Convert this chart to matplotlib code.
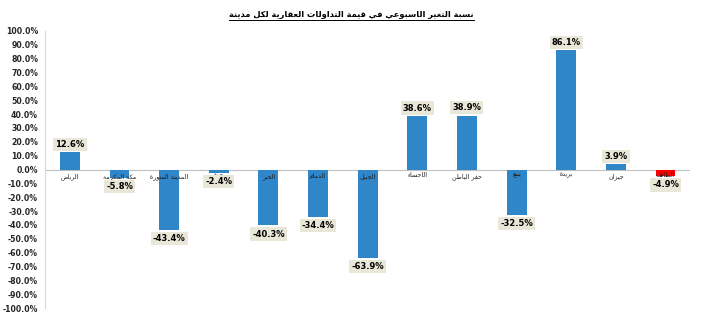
import numpy as np
import matplotlib.pyplot as plt
from matplotlib.lines import Line2D
from matplotlib.ticker import FuncFormatter

# simple arabic shaping (matplotlib has no complex text layout)
FOUR = {'ب': 0xFE8F, 'ت': 0xFE95, 'ث': 0xFE99, 'ج': 0xFE9D, 'ح': 0xFEA1, 'خ': 0xFEA5,
        'س': 0xFEB1, 'ش': 0xFEB5, 'ص': 0xFEB9, 'ض': 0xFEBD, 'ط': 0xFEC1, 'ظ': 0xFEC5,
        'ع': 0xFEC9, 'غ': 0xFECD, 'ف': 0xFED1, 'ق': 0xFED5, 'ك': 0xFED9, 'ل': 0xFEDD,
        'م': 0xFEE1, 'ن': 0xFEE5, 'ه': 0xFEE9, 'ي': 0xFEF1, 'ئ': 0xFE89}
TWO = {'ا': 0xFE8D, 'أ': 0xFE83, 'إ': 0xFE87, 'آ': 0xFE81, 'ة': 0xFE93, 'د': 0xFEA9,
       'ذ': 0xFEAB, 'ر': 0xFEAD, 'ز': 0xFEAF, 'و': 0xFEED, 'ى': 0xFEEF, 'ؤ': 0xFE85}


def shape(text):
    out = []
    n = len(text)
    for i, ch in enumerate(text):
        if ch not in FOUR and ch not in TWO:
            out.append(ch)
            continue
        prev = text[i - 1] if i > 0 else ''
        nxt = text[i + 1] if i < n - 1 else ''
        join_prev = prev in FOUR
        join_next = ch in FOUR and (nxt in FOUR or nxt in TWO)
        if ch in TWO:
            base = TWO[ch]
            out.append(chr(base + 1 if join_prev else base))
        else:
            base = FOUR[ch]
            if join_prev and join_next:
                out.append(chr(base + 3))
            elif join_prev:
                out.append(chr(base + 1))
            elif join_next:
                out.append(chr(base + 2))
            else:
                out.append(chr(base))
    return ''.join(out)[::-1]


title = 'نسبة التغير الاسبوعي في قيمة التداولات العقارية لكل مدينة'
cities = ['الرياض', 'مكة المكرمة', 'المدينة المنورة', 'جدة', 'الخبر', 'الدمام', 'الجبيل',
          'الاحساء', 'حفر الباطن', 'ينبع', 'بريدة', 'جيزان', 'الطائف']
values = [12.6, -5.8, -43.4, -2.4, -40.3, -34.4, -63.9, 38.6, 38.9, -32.5, 86.1, 3.9, -4.9]
colors = ['#2F86C8'] * 12 + ['#FF0000']

plt.rcParams['font.family'] = ['DejaVu Sans']

fig = plt.figure(figsize=(7.03, 3.26), dpi=100)
ax = fig.add_axes([0.064, 0.055, 0.918, 0.85])

x = np.arange(len(cities))
ax.bar(x, values, width=0.4, color=colors, zorder=2)
ax.axhline(0, color='#BFBFBF', lw=0.8, zorder=1)

ax.set_xlim(-0.5, len(cities) - 0.5)
ax.set_ylim(-100, 100)
ax.set_yticks(np.arange(-100, 101, 10))
ax.yaxis.set_major_formatter(FuncFormatter(lambda v, p: '%.1f%%' % v))
ax.tick_params(axis='y', length=0, labelsize=5.6, pad=5, labelcolor='#262626')
for lab in ax.get_yticklabels():
    lab.set_fontweight('bold')
ax.set_xticks([])
for s in ['top', 'right', 'bottom']:
    ax.spines[s].set_visible(False)
ax.spines['left'].set_color('#D9D9D9')

for xi, v, name in zip(x, values, cities):
    ax.text(xi, -2.5, shape(name), ha='center', va='top', fontsize=4.5, color='#1a1a1a', zorder=3)
    off = 2.5 if v > 0 else -3
    ax.annotate('%.1f%%' % v, (xi, v), xytext=(0, off), textcoords='offset points',
                ha='center', va='bottom' if v > 0 else 'top', fontsize=6, fontweight='bold',
                bbox=dict(boxstyle='square,pad=0.25', fc='#E9E7D8', ec='none'), zorder=4)

t = fig.text(0.5, 0.955, shape(title), ha='center', va='center', fontsize=6, fontweight='bold')
fig.canvas.draw()
bb = t.get_window_extent().transformed(fig.transFigure.inverted())
fig.add_artist(Line2D([bb.x0, bb.x1], [bb.y0 - 0.004, bb.y0 - 0.004], color='black', lw=0.7))

fig.savefig('out.png', dpi=100)
